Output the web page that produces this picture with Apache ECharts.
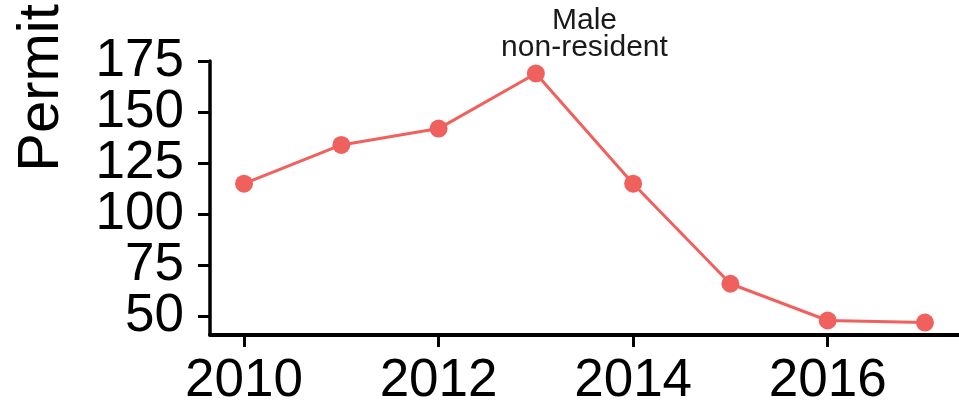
<!DOCTYPE html>
<html><head><meta charset="utf-8">
<script src="https://cdn.jsdelivr.net/npm/echarts@6/dist/echarts.min.js"></script>
<style>html,body{margin:0;padding:0;background:#fff}#c{width:959px;height:408px}</style>
</head><body><div id="c"></div>
<script>
const years = [2010, 2011, 2012, 2013, 2014, 2015, 2016, 2017];
const permits = [115, 134, 142, 169, 115, 66, 48, 47];
const xTicks = [2010, 2012, 2014, 2016];
const yTicks = [50, 75, 100, 125, 150, 175];
const annotationText = 'Male\nnon-resident';
const annotationAt = [2013.5, 188];
const yTitle = 'Permit';

const FONT = 'Liberation Sans, Arial, sans-serif';
const RED = '#F0605D';
const yTicksA = yTicks.filter((v, i) => i % 2 === 0);
const yTicksB = yTicks.filter((v, i) => i % 2 === 1);
function yAxisOf(ticks, showLine) {
  return {
    type: 'value', min: 40.9, max: 175.1, position: 'left', offset: 0,
    splitLine: {show: false},
    axisLine: {show: showLine, lineStyle: {color: '#000', width: 3.5}},
    axisTick: {show: true, inside: false, customValues: ticks, length: 12, lineStyle: {color: '#000', width: 3}},
    axisLabel: {show: true, customValues: ticks, showMinLabel: true, showMaxLabel: true, hideOverlap: false,
      fontSize: 53, color: '#000', fontFamily: FONT, margin: 26}
  };
}
const chart = echarts.init(document.getElementById('c'), null, {renderer: 'canvas'});
chart.setOption({
  animation: false,
  grid: {left: 210, top: 61, width: 759, height: 274, containLabel: false},
  xAxis: {
    type: 'value', min: 2009.65, max: 2017.35,
    splitLine: {show: false},
    axisLine: {lineStyle: {color: '#000', width: 4}},
    axisTick: {show: true, inside: false, customValues: xTicks, length: 12, lineStyle: {color: '#000', width: 3}},
    axisLabel: {customValues: xTicks, fontSize: 53, color: '#000', fontFamily: FONT, margin: 20,
      formatter: v => String(v)}
  },
  yAxis: [yAxisOf(yTicksA, true), yAxisOf(yTicksB, false)],
  series: [{
    type: 'line',
    yAxisIndex: 0,
    data: years.map((y, i) => [y, permits[i]]),
    symbol: 'circle', symbolSize: 18,
    lineStyle: {color: RED, width: 3},
    itemStyle: {color: RED},
    clip: false
  }]
});
const p = chart.convertToPixel({xAxisIndex: 0, yAxisIndex: 0}, annotationAt);
chart.setOption({
  graphic: [
    {type: 'text', x: p[0], y: p[1], style: {text: annotationText, font: '30px ' + FONT, fill: '#1a1a1a',
      textAlign: 'center', textVerticalAlign: 'middle', lineHeight: 27}},
    {type: 'text', x: 42, y: 88, rotation: Math.PI / 2, style: {text: yTitle, font: '58px ' + FONT, fill: '#000',
      textAlign: 'center', textVerticalAlign: 'middle'}}
  ]
});
</script></body></html>
